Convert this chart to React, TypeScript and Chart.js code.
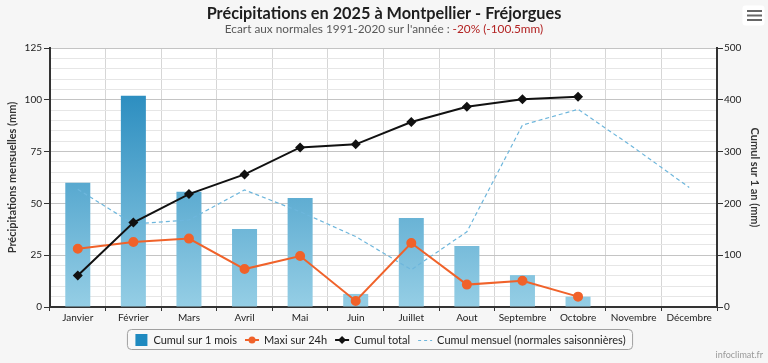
import React, { useEffect, useRef } from 'react';
import { Chart, registerables } from 'chart.js';

Chart.register(...registerables);

const months = ['Janvier', 'Février', 'Mars', 'Avril', 'Mai', 'Juin', 'Juillet', 'Aout', 'Septembre', 'Octobre', 'Novembre', 'Décembre'];
const monthlyRain = [60, 102, 55.6, 37.6, 52.6, 6.3, 43, 29.4, 15.4, 5, null, null];
const max24h = [28.1, 31.4, 33, 18.3, 24.6, 2.9, 30.9, 10.8, 12.7, 5, null, null];
const cumulTotal = [61, 163, 218, 256, 308, 314, 357, 386.5, 401, 406, null, null];
const normals = [56.8, 40.1, 42, 56.5, 46, 34, 18, 36.3, 87.8, 95.4, 77, 57.7];

const leftMax = 125;
const leftMajorStep = 25;
const leftMinorStep = 5;
const rightMax = 500;
const rightStep = 100;

const titleText = 'Précipitations en 2025 à Montpellier - Fréjorgues';
const subtitleGray = "Ecart aux normales 1991-2020 sur l'année : ";
const subtitleRed = '-20% (-100.5mm)';
const legendLabels = ['Cumul sur 1 mois', 'Maxi sur 24h', 'Cumul total', 'Cumul mensuel (normales saisonnières)'];
const leftTitle = 'Précipitations mensuelles (mm)';
const rightTitle = 'Cumul sur 1 an (mm)';
const creditText = 'infoclimat.fr';

const FONT = 'Lato, "DejaVu Sans", sans-serif';
const ORANGE = '#f0622a';
const BLACK = '#111111';
const DASH = '#6db6dc';
const BAR_SWATCH = '#1f8ac0';

const decor = {
  id: 'decor',
  beforeDraw(chart: any) {
    const { ctx, width, height, chartArea } = chart;
    ctx.save();
    ctx.fillStyle = '#f6f6f6';
    ctx.fillRect(0, 0, width, height);
    ctx.fillStyle = '#ffffff';
    ctx.fillRect(chartArea.left, chartArea.top, chartArea.right - chartArea.left, chartArea.bottom - chartArea.top);
    ctx.restore();
  },
  afterDraw(chart: any) {
    const { ctx, width } = chart;
    ctx.save();
    const cx = width / 2;
    // title
    ctx.font = `bold 16.3px ${FONT}`;
    ctx.fillStyle = '#1e1e1e';
    ctx.textAlign = 'center';
    ctx.textBaseline = 'middle';
    ctx.fillText(titleText, cx, 14);
    // subtitle
    ctx.font = `11.8px ${FONT}`;
    const w1 = ctx.measureText(subtitleGray).width;
    const w2 = ctx.measureText(subtitleRed).width;
    const sx = cx - (w1 + w2) / 2;
    ctx.textAlign = 'left';
    ctx.fillStyle = '#585858';
    ctx.fillText(subtitleGray, sx, 29);
    ctx.fillStyle = '#b22222';
    ctx.fillText(subtitleRed, sx + w1, 29);

    // legend
    ctx.font = `11px ${FONT}`;
    const symW = 14;
    const symGap = 5;
    const itemGap = 8;
    const widths = legendLabels.map((t) => ctx.measureText(t).width);
    const total = widths.reduce((a, b) => a + b, 0) + legendLabels.length * (symW + symGap) + (legendLabels.length - 1) * itemGap;
    const lx0 = 380 - total / 2;
    const ly = 340;
    const pad = 7;
    ctx.beginPath();
    ctx.roundRect(lx0 - pad, 329.5, total + pad * 2, 20, 4);
    ctx.fillStyle = '#f8f8f8';
    ctx.fill();
    ctx.strokeStyle = '#a0a0a0';
    ctx.lineWidth = 1;
    ctx.stroke();
    let x = lx0;
    legendLabels.forEach((label, i) => {
      const mid = x + symW / 2;
      if (i === 0) {
        ctx.fillStyle = BAR_SWATCH;
        ctx.fillRect(x + 1, ly - 6, 12, 12);
      } else if (i === 1) {
        ctx.strokeStyle = ORANGE;
        ctx.lineWidth = 2;
        ctx.beginPath();
        ctx.moveTo(x, ly);
        ctx.lineTo(x + symW, ly);
        ctx.stroke();
        ctx.fillStyle = ORANGE;
        ctx.beginPath();
        ctx.arc(mid, ly, 3.5, 0, Math.PI * 2);
        ctx.fill();
      } else if (i === 2) {
        ctx.strokeStyle = BLACK;
        ctx.lineWidth = 2;
        ctx.beginPath();
        ctx.moveTo(x, ly);
        ctx.lineTo(x + symW, ly);
        ctx.stroke();
        ctx.fillStyle = BLACK;
        ctx.beginPath();
        ctx.moveTo(mid, ly - 4);
        ctx.lineTo(mid + 4, ly);
        ctx.lineTo(mid, ly + 4);
        ctx.lineTo(mid - 4, ly);
        ctx.closePath();
        ctx.fill();
      } else {
        ctx.strokeStyle = DASH;
        ctx.lineWidth = 1;
        ctx.setLineDash([3, 3]);
        ctx.beginPath();
        ctx.moveTo(x, ly + 0.5);
        ctx.lineTo(x + symW, ly + 0.5);
        ctx.stroke();
        ctx.setLineDash([]);
      }
      ctx.fillStyle = '#222222';
      ctx.textAlign = 'left';
      ctx.textBaseline = 'middle';
      ctx.fillText(label, x + symW + symGap, ly);
      x += symW + symGap + widths[i] + itemGap;
    });

    // credits
    ctx.font = `9px ${FONT}`;
    ctx.fillStyle = '#999999';
    ctx.textAlign = 'right';
    ctx.fillText(creditText, 763, 355);

    // menu button
    ctx.beginPath();
    ctx.roundRect(742.5, 5.5, 22, 20, 3);
    ctx.fillStyle = '#ffffff';
    ctx.fill();
    ctx.strokeStyle = '#666666';
    ctx.lineWidth = 2;
    [11, 15.5, 20].forEach((yy) => {
      ctx.beginPath();
      ctx.moveTo(747, yy);
      ctx.lineTo(762, yy);
      ctx.stroke();
    });
    ctx.restore();
  },
};

export default function App() {
  const ref = useRef<HTMLCanvasElement>(null);
  useEffect(() => {
    document.body.style.margin = '0';
    const canvas = ref.current!;
    const chart = new Chart(canvas, {
      type: 'bar',
      data: {
        labels: months,
        datasets: [
          {
            type: 'line',
            label: legendLabels[2],
            data: cumulTotal,
            yAxisID: 'y1',
            borderColor: BLACK,
            backgroundColor: BLACK,
            borderWidth: 2,
            pointStyle: 'rectRot',
            pointRadius: 3.6,
            pointBackgroundColor: BLACK,
            pointBorderColor: BLACK,
            tension: 0,
            order: 1,
          },
          {
            type: 'line',
            label: legendLabels[1],
            data: max24h,
            yAxisID: 'y',
            borderColor: ORANGE,
            backgroundColor: ORANGE,
            borderWidth: 2,
            pointStyle: 'circle',
            pointRadius: 4,
            pointBackgroundColor: ORANGE,
            pointBorderColor: ORANGE,
            tension: 0,
            order: 2,
          },
          {
            type: 'line',
            label: legendLabels[3],
            data: normals,
            yAxisID: 'y',
            borderColor: DASH,
            borderWidth: 1.2,
            borderDash: [4, 3],
            pointRadius: 0,
            tension: 0,
            order: 3,
          },
          {
            type: 'bar',
            label: legendLabels[0],
            data: monthlyRain,
            yAxisID: 'y',
            barPercentage: 0.45,
            categoryPercentage: 1,
            backgroundColor: (c: any) => {
              const a = c.chart.chartArea;
              if (!a) return '#3a9ac8';
              const g = c.chart.ctx.createLinearGradient(0, a.top, 0, a.bottom);
              g.addColorStop(0, '#1680b8');
              g.addColorStop(1, '#95cee5');
              return g;
            },
            order: 4,
          },
        ],
      } as any,
      options: {
        responsive: false,
        animation: false,
        layout: { padding: { top: 48, left: 0, right: 0, bottom: 0 } },
        plugins: {
          legend: { display: false },
          title: { display: false },
          tooltip: { enabled: false },
        },
        scales: {
          x: {
            type: 'category',
            offset: true,
            grid: { offset: true, color: '#d6d6d6', tickColor: '#333333', tickLength: 4, drawTicks: true },
            border: { color: '#333333', width: 2 },
            ticks: { color: '#222222', font: { family: FONT, size: 10 }, padding: 1, maxRotation: 0, autoSkip: false },
            afterFit: (s: any) => { s.height = 56; },
          },
          y: {
            position: 'left',
            min: 0,
            max: leftMax,
            ticks: {
              stepSize: leftMinorStep,
              autoSkip: false,
              color: '#222222',
              font: { family: FONT, size: 10 },
              padding: 2,
              callback: (v: any) => (Number(v) % leftMajorStep === 0 ? String(v) : ''),
            },
            grid: {
              color: (c: any) => (c.tick && c.tick.value % leftMajorStep === 0 ? '#c4c4c4' : '#e6e6e6'),
              tickColor: (c: any) => (c.tick && c.tick.value % leftMajorStep === 0 ? '#333333' : 'rgba(0,0,0,0)'),
              tickLength: 6,
            },
            border: { color: '#333333', width: 2 },
            title: { display: true, text: leftTitle, color: '#333333', font: { family: FONT, size: 11, weight: 'bold' }, padding: { top: 6, bottom: 0 } },
            afterFit: (s: any) => { s.width = 50; },
          },
          y1: {
            position: 'right',
            min: 0,
            max: rightMax,
            ticks: { stepSize: rightStep, color: '#222222', font: { family: FONT, size: 10 }, padding: 1 },
            grid: { drawOnChartArea: false, tickColor: '#333333', tickLength: 6 },
            border: { color: '#333333', width: 2 },
            title: { display: true, text: rightTitle, color: '#333333', font: { family: FONT, size: 11, weight: 'bold' }, padding: { top: 7, bottom: 0 } },
            afterFit: (s: any) => { s.width = 51; },
          },
        },
      } as any,
      plugins: [decor],
    });
    return () => chart.destroy();
  }, []);
  return (
    <div style={{ position: 'fixed', left: 0, top: 0, width: 768, height: 363 }}>
      <canvas ref={ref} width={768} height={363} style={{ display: 'block', width: 768, height: 363 }} />
    </div>
  );
}
